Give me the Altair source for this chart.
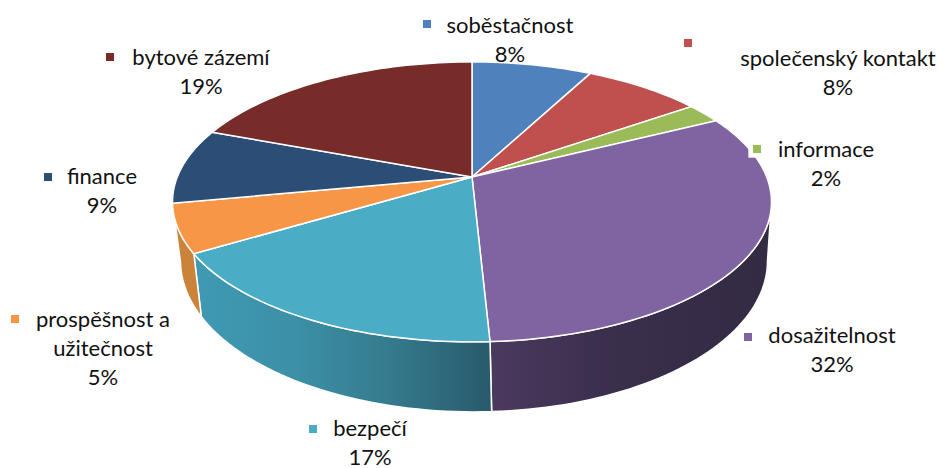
import math
import altair as alt
import pandas as pd

# --- data ---
categories = ["soběstačnost", "společenský kontakt", "informace", "dosažitelnost",
              "bezpečí", "prospěšnost a užitečnost", "finance", "bytové zázemí"]
shares = [7.7, 7.6, 2.3, 31.6, 17.2, 5.6, 8.7, 19.3]     # drawn share of the circle, percent
label_lines = [["soběstačnost", "8%"], ["společenský kontakt", "8%"], ["informace", "2%"],
               ["dosažitelnost", "32%"], ["bezpečí", "17%"],
               ["prospěšnost a", "užitečnost", "5%"], ["finance", "9%"], ["bytové zázemí", "19%"]]

# --- style / layout ---
colors = ["#4f81bd", "#c0504d", "#9bbb59", "#8064a2", "#4bacc6", "#f79646", "#2c4d75", "#772c2a"]
wall_stops = {
    3: [(0, "#4b3a5f"), (0.4, "#3b2f4d"), (1, "#332a43")],
    4: [(0, "#3f9ab4"), (0.35, "#3c8fa6"), (0.65, "#367b8e"), (1, "#285a6b")],
    5: [(0, "#cb8239"), (1, "#cb8239")],
}
label_x = [510, 838, 826, 832, 370, 103, 102, 201]
label_y = [26, 59, 150, 336, 428.5, 320, 177, 58]
line_step = 29
key_x = [427, 688, 757, 748, 313, 15, 48, 110]
key_y = [24, 43, 149, 337, 429, 319, 177, 57]
FONT = "Lato"
FONT_SIZE = 22

W, H = 929, 460
CX, CY, A, B, K = 472, 177, 135.5, 294.7, 0.178   # perspective of the top disc
ELL_CY = 202                                      # centre of the top ellipse
RIM_CX, RIM_CY, RIM_SX, RIM_SY = 474, 261, 0.98, 1.079   # bottom rim


def top(t):
    s, c = math.sin(t), math.cos(t)
    d = 1 + K * c
    return CX + B * s / d, CY - A * c / d


def rim(t):
    x, y = top(t)
    return RIM_CX + RIM_SX * (x - CX), RIM_CY + RIM_SY * (y - ELL_CY)


def sweep(a, b, step=1.5):
    n = max(2, int((b - a) / step) + 1)
    return [math.radians(a + (b - a) * i / (n - 1)) for i in range(n)]


xs = alt.X("x:Q", scale=alt.Scale(domain=[8, 8 + W], range=[0, W]), axis=None)
ys = alt.Y("y:Q", scale=alt.Scale(domain=[8 + H, 8], range=[H, 0]), axis=None)

edges = [0.0]
for v in shares:
    edges.append(edges[-1] + v)
total = edges[-1]
deg = [e / total * 360 for e in edges]
sil_a = math.degrees(math.acos(-K))
sil_b = 360 - sil_a

layers = []
# side walls
for i in wall_stops:
    a, b = max(deg[i], sil_a), min(deg[i + 1], sil_b)
    ang = sweep(a, b)
    pts = [top(t) for t in ang] + [rim(t) for t in reversed(ang)]
    df = pd.DataFrame({"x": [p[0] for p in pts], "y": [p[1] for p in pts], "o": range(len(pts))})
    grad = alt.LinearGradient(gradient="linear", x1=0, x2=1, y1=0, y2=0,
                              stops=[alt.GradientStop(offset=o, color=c) for o, c in wall_stops[i]])
    layers.append(alt.Chart(df).mark_line(fill=grad, stroke="#ffffff", strokeWidth=1.5,
                                          interpolate="linear-closed")
                  .encode(x=xs, y=ys, order="o:Q"))
# top slices
for i, col in enumerate(colors):
    pts = [(CX, CY)] + [top(t) for t in sweep(deg[i], deg[i + 1])]
    df = pd.DataFrame({"x": [p[0] for p in pts], "y": [p[1] for p in pts], "o": range(len(pts))})
    layers.append(alt.Chart(df).mark_line(fill=col, stroke="#ffffff", strokeWidth=1.5,
                                          interpolate="linear-closed")
                  .encode(x=xs, y=ys, order="o:Q"))

# label texts
rows = []
for i, lines in enumerate(label_lines):
    for j, t in enumerate(lines):
        rows.append({"x": label_x[i], "y": label_y[i] + j * line_step, "t": t})
layers.append(alt.Chart(pd.DataFrame(rows)).mark_text(font=FONT, fontSize=FONT_SIZE, color="#111111",
                                                      baseline="middle", align="center")
              .encode(x=xs, y=ys, text="t:N"))

# legend keys
keys = pd.DataFrame({"x": key_x, "y": key_y, "c": colors, "cat": categories})
halo = keys[keys["cat"] == "informace"]
layers.append(alt.Chart(halo).mark_square(size=300, color="#ffffff", opacity=1).encode(x=xs, y=ys))
layers.append(alt.Chart(keys).mark_square(size=64, opacity=1)
              .encode(x=xs, y=ys, color=alt.Color("c:N", scale=None)))

chart = (alt.layer(*layers)
         .properties(width=W, height=H, padding=0, autosize=alt.AutoSizeParams(type="none"))
         .configure_view(stroke=None))
chart.save("out.html", embed_options={"renderer": "svg", "actions": False})
